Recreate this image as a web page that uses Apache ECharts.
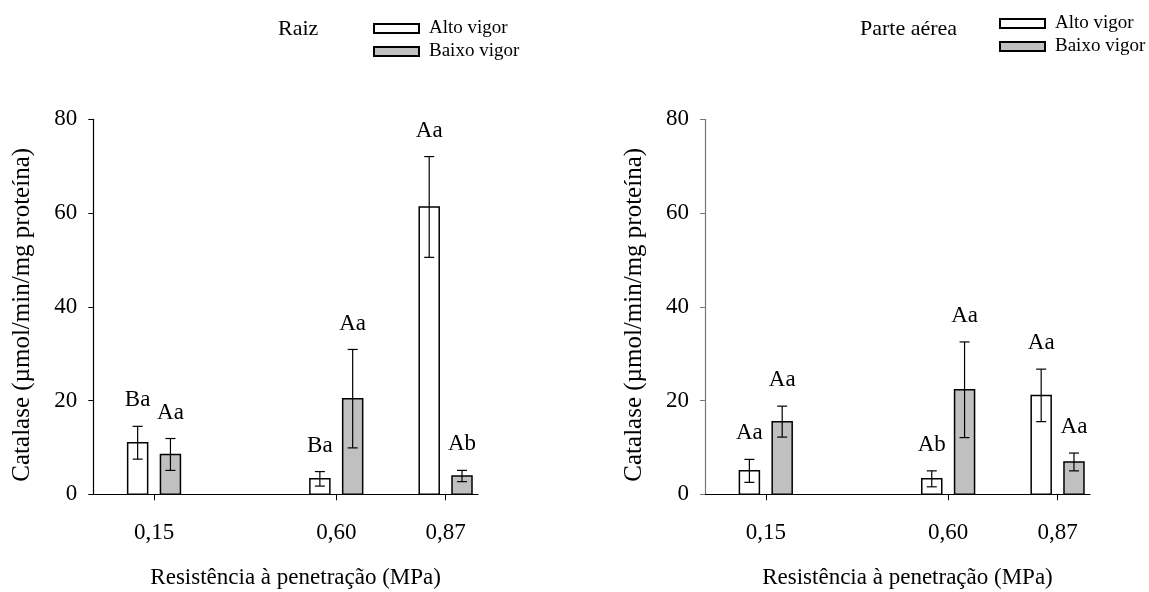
<!DOCTYPE html>
<html>
<head>
<meta charset="utf-8">
<script src="https://cdn.jsdelivr.net/npm/echarts@6/dist/echarts.min.js"></script>
<style>
  html, body { margin: 0; padding: 0; background: #fff; }
  #chart { width: 1149px; height: 592px; }
</style>
</head>
<body>
<div id="chart"></div>
<script>
// Penetration resistance levels (MPa)
const resistencia = [0.15, 0.60, 0.87];
const xTicks = [0.15, 0.60, 0.87];
const yTicks = [0, 20, 40, 60, 80];

// Raiz (root) — catalase activity, mean and standard error
const raizAlto = [11.0, 3.3, 61.3];
const raizAltoErr = [3.5, 1.55, 10.75];
const raizAltoLetras = ['Ba', 'Ba', 'Aa'];
const raizBaixo = [8.5, 20.4, 3.9];
const raizBaixoErr = [3.4, 10.5, 1.2];
const raizBaixoLetras = ['Aa', 'Aa', 'Ab'];

// Parte aérea (shoot)
const aereaAlto = [5.0, 3.3, 21.1];
const aereaAltoErr = [2.45, 1.7, 5.6];
const aereaAltoLetras = ['Aa', 'Ab', 'Aa'];
const aereaBaixo = [15.5, 22.3, 6.9];
const aereaBaixoErr = [3.3, 10.2, 1.9];
const aereaBaixoLetras = ['Aa', 'Aa', 'Aa'];

const FONT = '"Liberation Serif", "DejaVu Serif", serif';
const BAR_W = 20;       // bar width, px
const BAR_OFF = 16.4;   // half distance between paired bar centres, px
const CAP = 5;          // error-bar cap half width, px
const LABEL_GAP = 26;   // letters above the error bar, px

function pairSeries(name, fill, values, errs, letters, gridIdx, side) {
  return {
    name: name,
    type: 'custom',
    xAxisIndex: gridIdx,
    yAxisIndex: gridIdx,
    itemStyle: { color: fill, borderColor: '#000', borderWidth: 1.5 },
    data: resistencia.map((x, i) => [x, values[i], errs[i]]),
    renderItem: function (params, api) {
      const x = api.value(0), v = api.value(1), e = api.value(2);
      const top = api.coord([x, v]);
      const base = api.coord([x, 0]);
      const hi = api.coord([x, v + e]);
      const lo = api.coord([x, v - e]);
      const cx = top[0] + side * BAR_OFF;
      const lineStyle = { stroke: '#000', lineWidth: 1.2, fill: null };
      return {
        type: 'group',
        children: [
          {
            type: 'rect',
            shape: { x: cx - BAR_W / 2, y: top[1], width: BAR_W, height: base[1] - top[1] },
            style: { fill: fill, stroke: '#000', lineWidth: 1.5 }
          },
          { type: 'line', shape: { x1: cx, y1: hi[1], x2: cx, y2: lo[1] }, style: lineStyle },
          { type: 'line', shape: { x1: cx - CAP, y1: hi[1], x2: cx + CAP, y2: hi[1] }, style: lineStyle },
          { type: 'line', shape: { x1: cx - CAP, y1: lo[1], x2: cx + CAP, y2: lo[1] }, style: lineStyle },
          {
            type: 'text',
            style: {
              text: letters[params.dataIndex],
              x: cx, y: hi[1] - LABEL_GAP,
              align: 'center', verticalAlign: 'middle',
              font: '23px ' + FONT, fill: '#000'
            }
          }
        ]
      };
    }
  };
}

function xAxisFor(gridIdx) {
  return {
    type: 'value', gridIndex: gridIdx, min: 0, max: 0.95,
    name: 'Resistência à penetração (MPa)',
    nameLocation: 'middle', nameGap: 72,
    nameTextStyle: { fontFamily: FONT, fontSize: 23, color: '#000', padding: [0, 0, 0, 20] },
    axisLine: { show: true, onZero: false, lineStyle: { color: '#000', width: 1.2 } },
    axisTick: { show: true, customValues: xTicks, length: 6, lineStyle: { color: '#000' } },
    axisLabel: {
      customValues: xTicks, margin: 27,
      fontFamily: FONT, fontSize: 23, color: '#000',
      formatter: v => v.toFixed(2).replace('.', ',')
    },
    splitLine: { show: false }
  };
}

function yAxisFor(gridIdx, lineColor) {
  return {
    type: 'value', gridIndex: gridIdx, min: 0, max: 80, interval: 20,
    name: 'Catalase (µmol/min/mg proteína)',
    nameLocation: 'middle', nameGap: 58, nameRotate: 90,
    nameTextStyle: { fontFamily: FONT, fontSize: 25, color: '#000', padding: [0, 16, 0, 0] },
    axisLine: { show: true, lineStyle: { color: lineColor, width: 1.2 } },
    axisTick: { show: true, length: 5, inside: false, lineStyle: { color: lineColor } },
    axisLabel: {
      margin: 16, fontFamily: FONT, fontSize: 23, color: '#000',
      customValues: yTicks
    },
    splitLine: { show: false }
  };
}

function legendAt(left, top) {
  return {
    left: left, top: top, orient: 'vertical', padding: 0,
    icon: 'rect', itemWidth: 45, itemHeight: 9, itemGap: 4,
    selectedMode: false,
    textStyle: { fontFamily: FONT, fontSize: 19, color: '#000', padding: [0, 0, 0, 5] },
    data: ['Alto vigor', 'Baixo vigor']
  };
}

const titleStyle = { fontFamily: FONT, fontSize: 22, fontWeight: 'normal', color: '#000' };

const chart = echarts.init(document.getElementById('chart'), null, { renderer: 'canvas' });
chart.setOption({
  animation: false,
  backgroundColor: '#fff',
  title: [
    { text: 'Raiz', left: 278, top: 18, padding: 0, textStyle: titleStyle },
    { text: 'Parte aérea', left: 860, top: 18, padding: 0, textStyle: titleStyle }
  ],
  legend: [legendAt(373, 19), legendAt(999, 14)],
  grid: [
    { left: 93.3, right: 671, top: 119.3, bottom: 97.7, outerBoundsMode: 'none' },
    { left: 705, right: 59, top: 119.3, bottom: 97.7, outerBoundsMode: 'none' }
  ],
  xAxis: [xAxisFor(0), xAxisFor(1)],
  yAxis: [yAxisFor(0, '#000'), yAxisFor(1, '#777')],
  series: [
    pairSeries('Alto vigor', '#ffffff', raizAlto, raizAltoErr, raizAltoLetras, 0, -1),
    pairSeries('Baixo vigor', '#c0c0c0', raizBaixo, raizBaixoErr, raizBaixoLetras, 0, 1),
    pairSeries('Alto vigor', '#ffffff', aereaAlto, aereaAltoErr, aereaAltoLetras, 1, -1),
    pairSeries('Baixo vigor', '#c0c0c0', aereaBaixo, aereaBaixoErr, aereaBaixoLetras, 1, 1)
  ]
});
</script>
</body>
</html>
